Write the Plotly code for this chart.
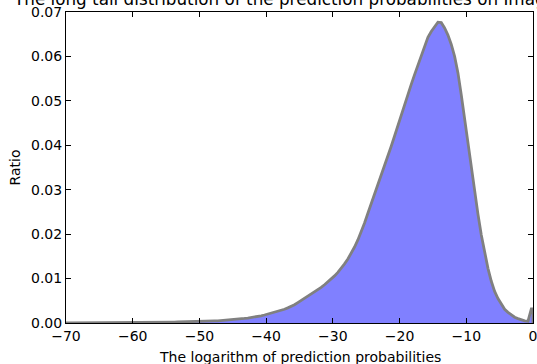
import numpy as np
import plotly.graph_objects as go

# histogram: bin width 0.5 from -70 to 0, ratio per bin
bin_start = -70.0
bin_width = 0.5
ratio = [
    # [-70,-65)
    0.00005, 0.00005, 0.00005, 0.00005, 0.00006, 0.00006, 0.00006, 0.00007, 0.00007, 0.00007,
    # [-65,-60)
    0.00008, 0.00008, 0.00008, 0.00009, 0.00009, 0.0001, 0.0001, 0.0001, 0.00011, 0.00011,
    # [-60,-55)
    0.00012, 0.00012, 0.00013, 0.00013, 0.00014, 0.00015, 0.00015, 0.00016, 0.00017, 0.00018,
    # [-55,-50)
    0.00019, 0.0002, 0.00021, 0.00022, 0.00023, 0.00025, 0.00026, 0.00028, 0.0003, 0.00032,
    # [-50,-45)
    0.00034, 0.00037, 0.0004, 0.00043, 0.00047, 0.0005, 0.00055, 0.0006, 0.00066, 0.00072,
    # [-45,-40)
    0.0008, 0.00087, 0.00095, 0.00103, 0.00112, 0.00122, 0.00134, 0.00148, 0.00163, 0.0018,
    # [-40,-35)
    0.002, 0.0022, 0.0024, 0.0026, 0.0028, 0.0031, 0.0034, 0.0037, 0.0041, 0.0046,
    # [-35,-30)
    0.0051, 0.0055, 0.0059, 0.0064, 0.0069, 0.0074, 0.008, 0.0086, 0.0092, 0.0099,
    # [-30,-25)
    0.0106, 0.0114, 0.0123, 0.0133, 0.0144, 0.0157, 0.0171, 0.0187, 0.0205, 0.0225,
    # [-25,-20)
    0.0247, 0.0268, 0.029, 0.0312, 0.0333, 0.0354, 0.0376, 0.0398, 0.0421, 0.0445,
    # [-20,-15)
    0.0468, 0.049, 0.0513, 0.0537, 0.0559, 0.0581, 0.0604, 0.0626, 0.0643, 0.0656,
    # [-15,-10)
    0.0667, 0.0677, 0.0676, 0.0664, 0.0648, 0.0627, 0.06, 0.0563, 0.0513, 0.0458,
    # [-10,-5)
    0.040, 0.0345, 0.0293, 0.0245, 0.0198, 0.0158, 0.0123, 0.0094, 0.0071, 0.0055,
    # [-5,0)
    0.0042, 0.0031, 0.0024, 0.0018, 0.0013, 0.001, 0.0007, 0.0005, 0.0004, 0.0032,
]

x_ticks = [-70, -60, -50, -40, -30, -20, -10, 0]
y_ticks = [0.0, 0.01, 0.02, 0.03, 0.04, 0.05, 0.06, 0.07]

title_text = "The long tail distribution of the prediction probabilities on ImageNet"
x_label = "The logarithm of prediction probabilities"
y_label = "Ratio"

centers = bin_start + bin_width * (np.arange(len(ratio)) + 0.5)
x_end = bin_start + bin_width * len(ratio)
xs = [bin_start, bin_start] + list(centers) + [x_end, x_end]
ys = [0.0, ratio[0]] + list(ratio) + [ratio[-1], 0.0]

FONT = "DejaVu Sans"

fig = go.Figure()
fig.add_trace(go.Scatter(
    x=xs, y=ys, mode="lines", line_shape="linear",
    fill="tozeroy", fillcolor="#8080ff",
    line=dict(color="#808080", width=2.8),
    hoverinfo="skip", showlegend=False,
))

axis_common = dict(
    showline=True, linecolor="black", linewidth=1, mirror="ticks",
    ticks="inside", ticklen=5, tickcolor="black", tickwidth=1,
    showgrid=False, zeroline=False, automargin=False,
    tickfont=dict(family=FONT, size=14, color="black"),
)

fig.update_layout(
    width=537, height=364,
    margin=dict(l=66, r=4, t=12, b=41),
    plot_bgcolor="white", paper_bgcolor="white",
    font=dict(family=FONT, size=14, color="black"),
    xaxis=dict(range=[-70, 0], tickvals=x_ticks, ticklabeloverflow="allow", **axis_common),
    yaxis=dict(range=[0, 0.07], tickvals=y_ticks, tickformat=".2f", **axis_common),
    annotations=[
        dict(text=title_text, xref="paper", yref="paper", x=0.5, y=1,
             xanchor="center", yanchor="bottom", yshift=1, showarrow=False,
             font=dict(family=FONT, size=16.8, color="black")),
        dict(text=x_label, xref="paper", yref="paper", x=0.5, y=0,
             xanchor="center", yanchor="top", yshift=-24, showarrow=False,
             font=dict(family=FONT, size=14, color="black")),
        dict(text=y_label, xref="paper", yref="paper", x=0, y=0.5,
             xanchor="center", yanchor="middle", xshift=-52, textangle=-90,
             showarrow=False, font=dict(family=FONT, size=14, color="black")),
    ],
)

fig.write_html(
    "out.html",
    config={"displayModeBar": False},
    post_script="document.body.style.margin='0';document.body.style.overflow='hidden';",
)
